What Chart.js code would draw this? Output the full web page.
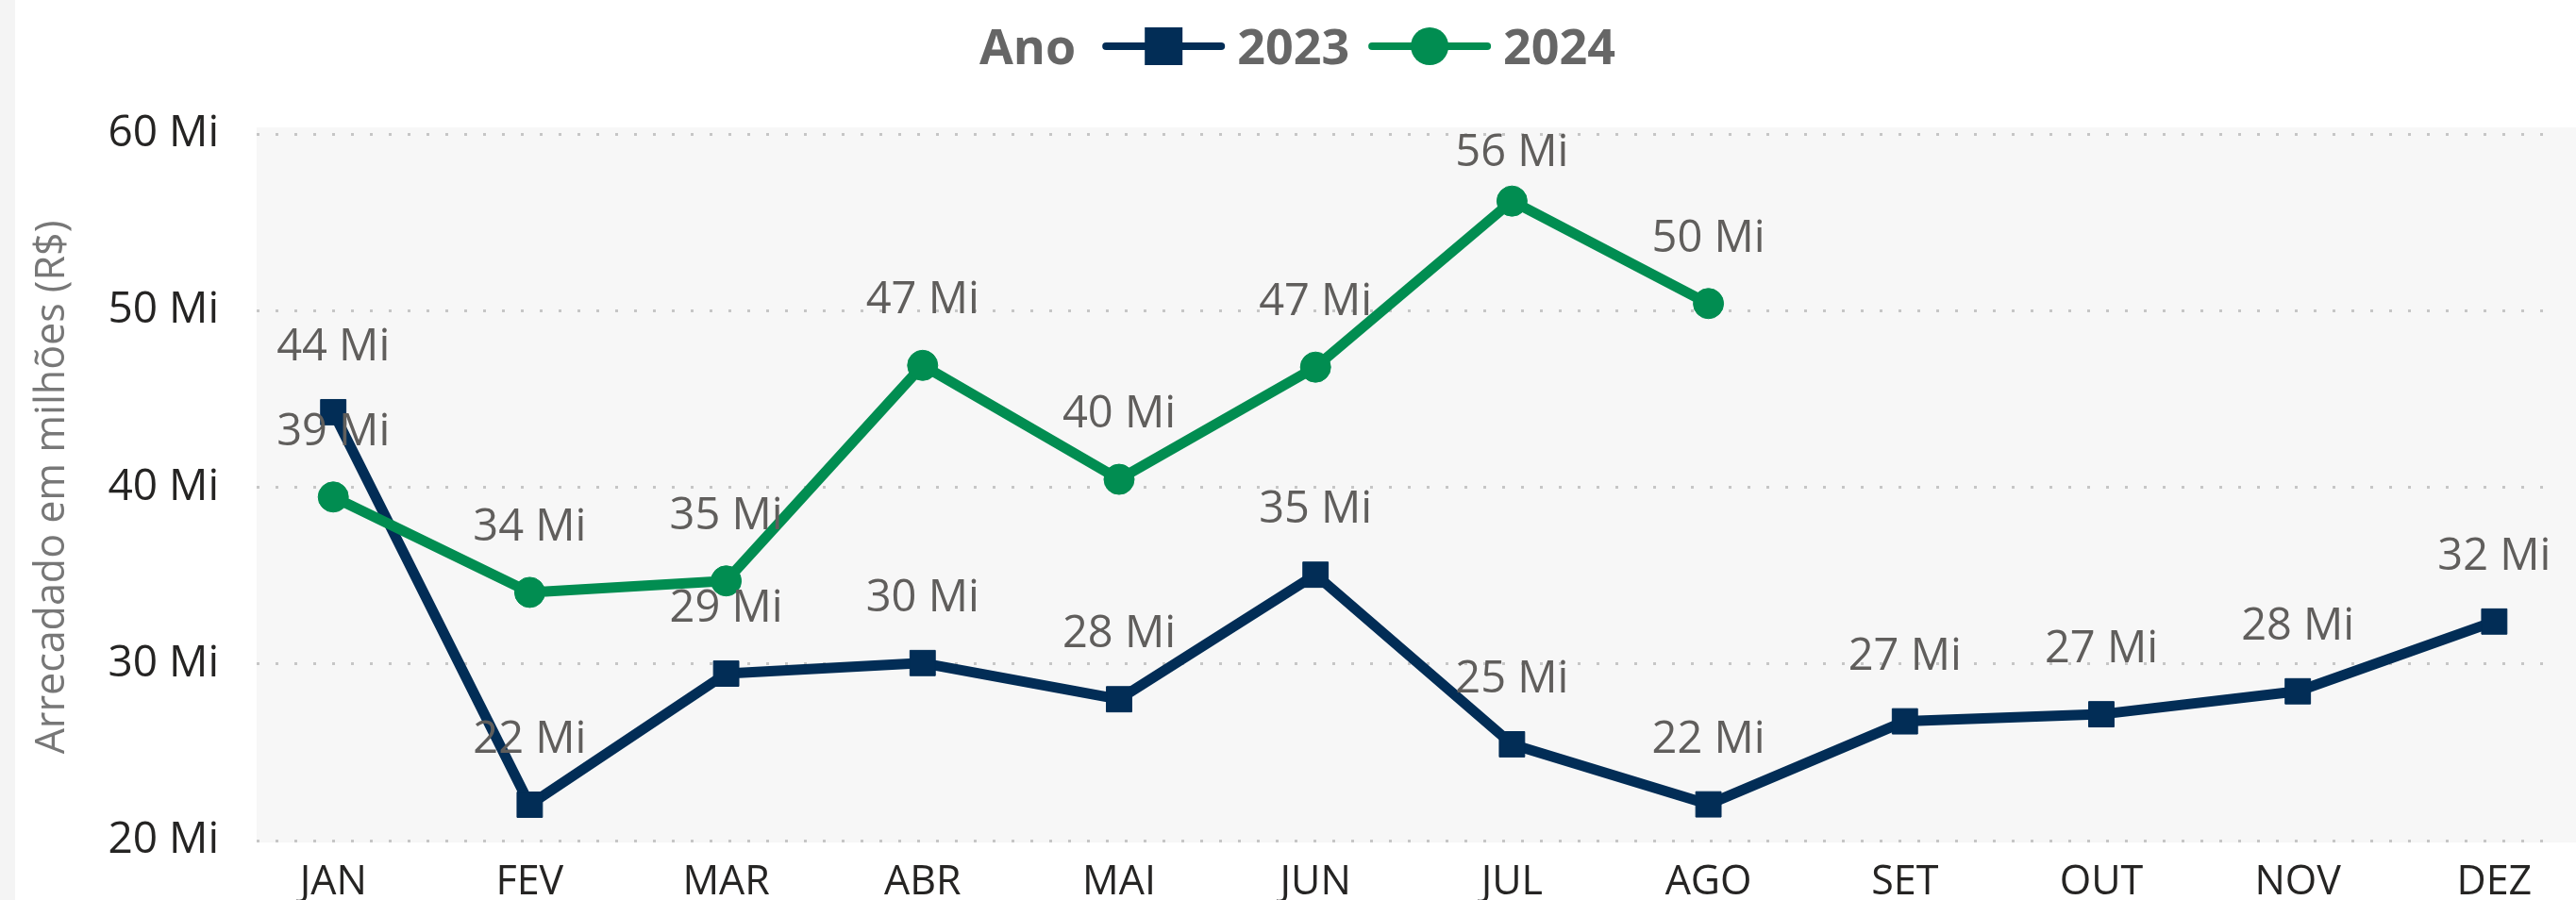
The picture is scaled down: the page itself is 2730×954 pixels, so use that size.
<!DOCTYPE html>
<html lang="pt-BR">
<head>
<meta charset="utf-8">
<title>Arrecadado por mês</title>
<script src="https://cdn.jsdelivr.net/npm/chart.js@4.4.1/dist/chart.umd.min.js"></script>
<style>
  html, body { margin: 0; padding: 0; background: #fff; }
  #wrap { width: 2730px; height: 954px; }
</style>
</head>
<body>
<div id="wrap"><canvas id="grafico-arrecadacao" width="2730" height="954"></canvas></div>
<script>
// Dados (em milhões de R$)
const meses = ["JAN", "FEV", "MAR", "ABR", "MAI", "JUN", "JUL", "AGO", "SET", "OUT", "NOV", "DEZ"];
const valores2023 = [44.25, 22.03, 29.45, 30.05, 28.0, 35.05, 25.45, 22.05, 26.75, 27.15, 28.45, 32.4];
const valores2024 = [39.45, 34.05, 34.7, 46.9, 40.45, 46.8, 56.2, 50.4];
const ticksY = [20, 30, 40, 50, 60];

const FONTE = '"Open Sans", "Noto Sans", sans-serif';
const AZUL = "#022d56";
const VERDE = "#018d51";

const pontos = (valores) => valores.map((v, i) => ({ x: i, y: v }));

// Fundo cinza da área do gráfico
const fundoPlugin = {
  id: "fundo",
  beforeDraw(chart) {
    const { ctx, chartArea, width } = chart;
    ctx.save();
    ctx.fillStyle = "#ffffff";
    ctx.fillRect(0, 0, width, chart.height);
    ctx.fillStyle = "#f4f4f4";
    ctx.fillRect(0, 0, 16, chart.height);
    ctx.fillStyle = "#f7f7f7";
    ctx.fillRect(chartArea.left, chartArea.top - 7, width - chartArea.left, chartArea.bottom - chartArea.top + 9);
    ctx.restore();
  },
};

// Rótulos de dados acima de cada ponto
const rotulosPlugin = {
  id: "rotulos",
  afterDatasetsDraw(chart) {
    const { ctx, chartArea } = chart;
    ctx.save();
    ctx.font = "47px " + FONTE;
    ctx.fillStyle = "#605e5c";
    ctx.textAlign = "center";
    ctx.textBaseline = "alphabetic";
    chart.data.datasets.forEach((ds, i) => {
      const meta = chart.getDatasetMeta(i);
      meta.data.forEach((pt, j) => {
        const valor = ds.data[j].y;
        const centro = Math.max(pt.y - 72, chartArea.top + 17);
        ctx.fillText(Math.round(valor) + " Mi", pt.x, centro + 17);
      });
    });
    ctx.restore();
  },
};

// Legenda "Ano" em linha, no topo
const legendaPlugin = {
  id: "legendaAno",
  afterDraw(chart) {
    const ctx = chart.ctx;
    const itens = [
      { texto: "2023", cor: AZUL, estilo: "rect" },
      { texto: "2024", cor: VERDE, estilo: "circle" },
    ];
    ctx.save();
    ctx.font = "bold 52px " + FONTE;
    ctx.textBaseline = "alphabetic";
    ctx.fillStyle = "#666666";
    const linha = 130, gapTitulo = 28, gapTexto = 13, gapItem = 20;
    const yc = 49, base = 68;
    let total = ctx.measureText("Ano").width + gapTitulo;
    itens.forEach((it, i) => {
      total += linha + gapTexto + ctx.measureText(it.texto).width + (i < itens.length - 1 ? gapItem : 0);
    });
    let x = 1375 - total / 2;
    ctx.fillText("Ano", x, base);
    x += ctx.measureText("Ano").width + gapTitulo;
    itens.forEach((it) => {
      ctx.strokeStyle = it.cor;
      ctx.fillStyle = it.cor;
      ctx.lineWidth = 8;
      ctx.lineCap = "round";
      ctx.beginPath();
      ctx.moveTo(x + 4, yc);
      ctx.lineTo(x + linha - 4, yc);
      ctx.stroke();
      const cx = x + linha / 2;
      if (it.estilo === "rect") {
        ctx.fillRect(cx - 20, yc - 20, 40, 40);
      } else {
        ctx.beginPath();
        ctx.arc(cx, yc, 20, 0, Math.PI * 2);
        ctx.fill();
      }
      x += linha + gapTexto;
      ctx.fillStyle = "#666666";
      ctx.fillText(it.texto, x, base);
      x += ctx.measureText(it.texto).width + gapItem;
    });
    ctx.restore();
  },
};

const ctxArrecadacao = document.getElementById("grafico-arrecadacao").getContext("2d");
new Chart(ctxArrecadacao, {
  type: "line",
  data: {
    datasets: [
      {
        label: "2023",
        data: pontos(valores2023),
        borderColor: AZUL,
        backgroundColor: AZUL,
        borderWidth: 11,
        borderJoinStyle: "round",
        pointStyle: "rect",
        pointRadius: 19,
        pointBorderWidth: 1,
        pointBackgroundColor: AZUL,
        pointBorderColor: AZUL,
        order: 2,
      },
      {
        label: "2024",
        data: pontos(valores2024),
        borderColor: VERDE,
        backgroundColor: VERDE,
        borderWidth: 11,
        borderJoinStyle: "round",
        pointStyle: "circle",
        pointRadius: 16,
        pointBorderWidth: 1,
        pointBackgroundColor: VERDE,
        pointBorderColor: VERDE,
        order: 1,
      },
    ],
  },
  options: {
    responsive: false,
    animation: false,
    devicePixelRatio: 1,
    layout: { padding: { top: 142, right: 2, bottom: 0, left: 0 } },
    plugins: {
      legend: { display: false },
      tooltip: { enabled: false },
    },
    scales: {
      x: {
        type: "linear",
        min: -0.39,
        max: 11.32,
        grid: { display: false, drawTicks: false },
        border: { display: false },
        ticks: {
          stepSize: 1,
          includeBounds: false,
          autoSkip: false,
          maxRotation: 0,
          padding: 19,
          color: "#252423",
          font: { family: FONTE, size: 43 },
          callback: (v) => meses[v] ?? "",
        },
        afterFit: (scale) => {
          scale.height = 63;
          scale.paddingLeft = 0;
          scale.paddingRight = 0;
        },
      },
      y: {
        min: ticksY[0],
        max: ticksY[ticksY.length - 1],
        afterBuildTicks: (scale) => { scale.ticks = ticksY.map((v) => ({ value: v })); },
        grid: { color: "#c6c6c6", lineWidth: 3, drawTicks: false },
        border: { display: false, dash: [3, 17] },
        ticks: {
          padding: 40,
          color: "#252423",
          font: { family: FONTE, size: 46 },
          callback: (v) => v + " Mi",
        },
        title: {
          display: true,
          text: "Arrecadado em milhões (R$)",
          color: "#777777",
          font: { family: FONTE, size: 43 },
          padding: { top: 30, bottom: 0 },
        },
        afterFit: (scale) => {
          scale.width = 272;
          scale.paddingTop = 0;
          scale.paddingBottom = 0;
        },
      },
    },
  },
  plugins: [fundoPlugin, rotulosPlugin, legendaPlugin],
});
</script>
</body>
</html>
